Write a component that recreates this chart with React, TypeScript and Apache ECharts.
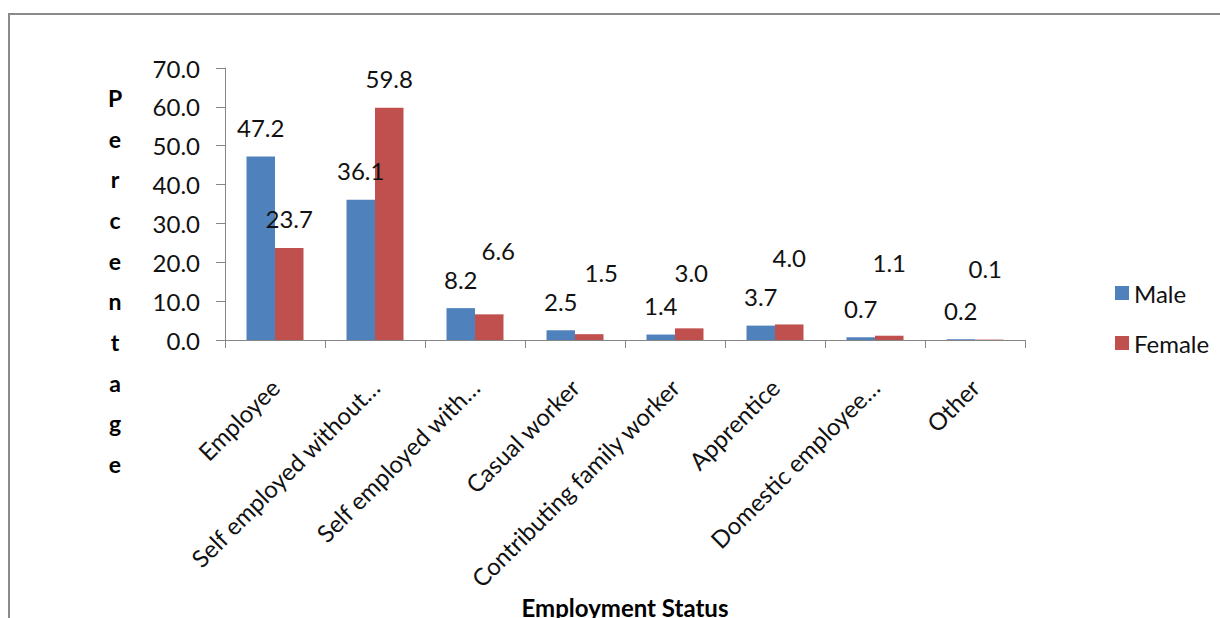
import { useEffect, useRef } from 'react';
import * as echarts from 'echarts';

// Employment status by sex (percent of employed persons)
const categories = [
  'Employee',
  'Self employed without…',
  'Self employed with…',
  'Casual worker',
  'Contributing family worker',
  'Apprentice',
  'Domestic employee…',
  'Other',
];
const maleValues = [47.2, 36.1, 8.2, 2.5, 1.4, 3.7, 0.7, 0.2];
const femaleValues = [23.7, 59.8, 6.6, 1.5, 3.0, 4.0, 1.1, 0.1];
const seriesNames = ['Male', 'Female'];
const yAxisTitle = 'Percentage';
const xAxisTitle = 'Employment Status';
const yMax = 70;
const yStep = 10;

const FONT = 'Lato, "Liberation Sans", Arial, sans-serif';
const BLUE = '#4F81BD';
const RED = '#C0504D';
const AXIS_GREY = '#868686';
const FRAME_GREY = '#8a8a8a';
const TEXT = '#111111';

// Female value labels that are lifted / shifted so they stay clear of the Male labels
const femaleLabelNudges: Record<number, [number, number]> = {
  2: [9, -35],
  3: [12, -33],
  4: [2, -27],
  5: [0, -38],
  6: [0, -44],
  7: [-4, -42],
};

export default function App() {
  const ref = useRef<HTMLDivElement>(null);

  useEffect(() => {
    if (!ref.current) return;
    const chart = echarts.init(ref.current, null, { renderer: 'svg' });

    const valueLabel = {
      show: true,
      position: 'top',
      distance: 17,
      fontFamily: FONT,
      fontSize: 24,
      color: TEXT,
      formatter: (p: any) => Number(p.value).toFixed(1),
    };

    chart.setOption({
      animation: false,
      backgroundColor: '#ffffff',
      grid: {
        left: 225,
        top: 68,
        width: 800,
        height: 272,
        containLabel: false,
        outerBoundsMode: 'none',
      },
      legend: {
        orient: 'vertical',
        left: 1110,
        top: 276,
        itemWidth: 14,
        itemHeight: 14,
        itemGap: 26,
        icon: 'rect',
        data: seriesNames,
        textStyle: { fontFamily: FONT, fontSize: 24, color: TEXT },
      },
      graphic: [
        {
          type: 'rect',
          silent: true,
          z: -10,
          shape: { x: 9, y: 14, width: 1400, height: 900 },
          style: { fill: 'none', stroke: FRAME_GREY, lineWidth: 2 },
        },
        {
          type: 'text',
          silent: true,
          x: 115,
          y: 281,
          style: {
            text: yAxisTitle.split('').join('\n'),
            font: `bold 23px ${FONT}`,
            fill: '#000',
            align: 'center',
            verticalAlign: 'middle',
            textAlign: 'center',
            textVerticalAlign: 'middle',
            lineHeight: 40.7,
          },
        },
      ],
      xAxis: {
        type: 'category',
        data: categories,
        name: xAxisTitle,
        nameLocation: 'middle',
        nameGap: 244,
        nameTextStyle: {
          fontFamily: FONT,
          fontSize: 24,
          fontWeight: 'bold',
          color: '#000',
          lineHeight: 26,
        },
        axisLine: { show: true, lineStyle: { color: AXIS_GREY, width: 1 } },
        axisTick: { show: true, length: 8, lineStyle: { color: AXIS_GREY } },
        axisLabel: {
          interval: 0,
          rotate: 45,
          margin: 43,
          fontFamily: FONT,
          fontSize: 24,
          color: TEXT,
        },
        splitLine: { show: false },
      },
      yAxis: {
        type: 'value',
        min: 0,
        max: yMax,
        interval: yStep,
        axisLine: { show: true, lineStyle: { color: AXIS_GREY, width: 1 } },
        axisTick: { show: true, length: 9, lineStyle: { color: AXIS_GREY } },
        axisLabel: {
          margin: 25,
          fontFamily: FONT,
          fontSize: 24,
          color: TEXT,
          formatter: (v: number) => v.toFixed(1),
        },
        splitLine: { show: false },
      },
      series: [
        {
          name: seriesNames[0],
          type: 'bar',
          data: maleValues,
          barGap: '0%',
          barCategoryGap: '43%',
          itemStyle: { color: BLUE },
          label: valueLabel,
        },
        {
          name: seriesNames[1],
          type: 'bar',
          data: femaleValues.map((v, i) =>
            femaleLabelNudges[i] ? { value: v, label: { offset: femaleLabelNudges[i] } } : v
          ),
          barGap: '0%',
          barCategoryGap: '43%',
          itemStyle: { color: RED },
          label: valueLabel,
        },
      ],
    });

    return () => chart.dispose();
  }, []);

  return (
    <div
      ref={ref}
      style={{ position: 'absolute', left: 0, top: 0, width: 1220, height: 618 }}
    />
  );
}
